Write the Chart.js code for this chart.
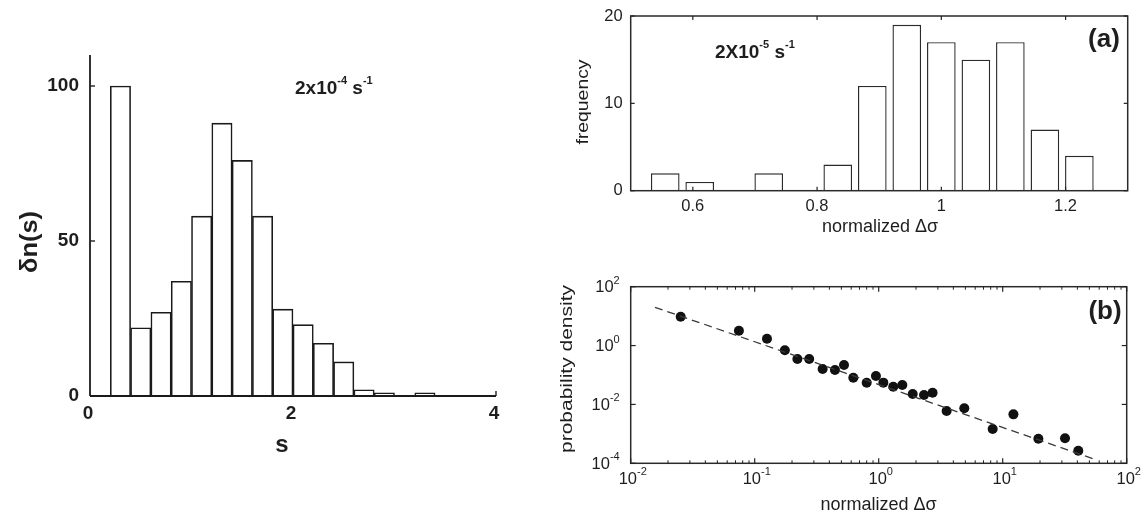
<!DOCTYPE html>
<html><head><meta charset="utf-8">
<script src="https://cdn.jsdelivr.net/npm/chart.js@4.4.1/dist/chart.umd.min.js"></script>
<style>
html,body{margin:0;padding:0;background:#fff;width:1146px;height:524px;overflow:hidden;}
canvas{position:absolute;}
#cL{left:0;top:0;} #cA{left:540px;top:0;} #cB{left:540px;top:240px;}
</style></head><body>
<canvas id="cL" width="540" height="524"></canvas>
<canvas id="cA" width="606" height="240"></canvas>
<canvas id="cB" width="606" height="284"></canvas>
<script>
// ---------- data ----------
// left panel: histogram of s (bin centres, width 0.2)
const sBins   = [0.3,0.5,0.7,0.9,1.1,1.3,1.5,1.7,1.9,2.1,2.3,2.5,2.7,2.9,3.1,3.3];
const sCounts = [100,22,27,37,58,88,76,58,28,23,17,11,2,1,0,1];
const sTicksX = [0,2,4];
const sTicksY = [0,50,100];
// panel (a): frequency vs normalized Δσ
const aBins = [0.5556,0.6111,0.6667,0.7222,0.7778,0.8333,0.8889,0.9444,1.0,1.0556,1.1111,1.1667,1.2222];
const aFreq = [2,1,0,2,0,3,12,19,17,15,17,7,4];
const aTicksX = [0.6,0.8,1,1.2];
const aTickLabelsX = ['0.6','0.8','1','1.2'];
const aTicksY = [0,10,20];
// panel (b): probability density vs normalized Δσ
const bX = [0.0253,0.0746,0.1256,0.175,0.221,0.275,0.353,0.444,0.525,0.624,0.80,0.95,1.09,1.31,1.55,1.88,2.32,2.72,3.53,4.9,8.3,12.2,19.4,31.8,40.7];
const bY = [9.5,3.2,1.71,0.69,0.35,0.35,0.16,0.148,0.22,0.081,0.0547,0.092,0.055,0.04,0.046,0.0226,0.0209,0.025,0.006,0.0074,0.00146,0.0046,0.00068,0.00071,0.000267];
const fitX = [0.0157,57.3];
const fitY = [20,0.00013];
const bTickExpX = [-2,-1,0,1,2];
const bTickExpY = [-4,-2,0,2];

// ---------- helpers ----------
const FF = '"Liberation Sans", Arial, Helvetica, sans-serif';
const INK = '#1e1e1e';
function txt(ctx,t,x,y,font,align){ctx.save();ctx.font=font;ctx.fillStyle=INK;ctx.textAlign=align||'center';ctx.textBaseline='middle';ctx.fillText(t,x,y);ctx.restore();}
function rtext(ctx,t,cx,cy,font,len){ctx.save();ctx.translate(cx,cy);ctx.rotate(-Math.PI/2);ctx.font=font;ctx.fillStyle=INK;const w=ctx.measureText(t).width;const s=len?len/w:1;ctx.scale(s,1);ctx.textAlign='center';ctx.textBaseline='middle';ctx.fillText(t,0,0);ctx.restore();}
// parts: [text, isSup]
function supText(ctx,parts,x,y,align,bf,sf,rise){
  ctx.save();ctx.fillStyle=INK;ctx.textBaseline='middle';ctx.textAlign='left';
  let total=0;const ws=parts.map(p=>{ctx.font=p[1]?sf:bf;const w=ctx.measureText(p[0]).width;total+=w;return w;});
  let cx = align==='center'? x-total/2 : align==='right'? x-total : x;
  parts.forEach((p,i)=>{ctx.font=p[1]?sf:bf;ctx.fillText(p[0],cx,p[1]?y-rise:y);cx+=ws[i];});
  ctx.restore();
}
function line(ctx,x1,y1,x2,y2,w,c){ctx.save();ctx.strokeStyle=c||'#222';ctx.lineWidth=w||1.5;ctx.beginPath();ctx.moveTo(x1,y1);ctx.lineTo(x2,y2);ctx.stroke();ctx.restore();}
function box(ctx,a,w){ctx.save();ctx.strokeStyle='#2a2a2a';ctx.lineWidth=w;ctx.strokeRect(a.left,a.top,a.right-a.left,a.bottom-a.top);ctx.restore();}
const hiddenScale = (extra)=>Object.assign({grid:{display:false,drawTicks:false},border:{display:false},ticks:{display:false}},extra);

// ---------- left panel ----------
const leftPlugin = {id:'leftDeco', afterDatasetsDraw(ch){
  const ctx=ch.ctx, a=ch.chartArea, xs=ch.scales.x, ys=ch.scales.y;
  line(ctx,a.left,a.top,a.left,a.bottom,1.8,'#1a1a1a');
  line(ctx,a.left,a.bottom,a.right,a.bottom,1.8,'#1a1a1a');
  sTicksY.forEach(v=>{const py=ys.getPixelForValue(v); if(v>0) line(ctx,a.left,py,a.left+5,py,1.4);
    txt(ctx,String(v),a.left-11,py,'bold 19px '+FF,'right');});
  sTicksX.forEach(v=>{const px=xs.getPixelForValue(v); if(v>0) line(ctx,px,a.bottom,px,a.bottom-5,1.4);
    txt(ctx,String(v),px-2,a.bottom+18,'bold 19px '+FF);});
  rtext(ctx,'δn(s)',30,242,'bold 24px '+FF,62);
  txt(ctx,'s',282,445,'bold 24px '+FF);
  supText(ctx,[['2x10',false],['-4',true],[' s',false],['-1',true]],295,89,'left','bold 19px '+FF,'bold 11px '+FF,8);
}};
new Chart(document.getElementById('cL'),{
  type:'bar',
  data:{datasets:[{data:sBins.map((x,i)=>({x:x,y:sCounts[i]})),backgroundColor:'#ffffff',borderColor:'#1a1a1a',borderWidth:1.6,barPercentage:1,categoryPercentage:1}]},
  options:{responsive:false,animation:false,events:[],
    layout:{padding:{left:90,right:44,top:55,bottom:128}},
    plugins:{legend:{display:false},tooltip:{enabled:false}},
    scales:{
      x:hiddenScale({type:'linear',min:0,max:4,offset:false,afterFit:s=>{s.height=0;}}),
      y:hiddenScale({min:0,max:110,afterFit:s=>{s.width=0;}})
    }},
  plugins:[leftPlugin]
});

// ---------- panel (a) ----------
const aPlugin = {id:'aDeco', afterDatasetsDraw(ch){
  const ctx=ch.ctx, a=ch.chartArea, xs=ch.scales.x, ys=ch.scales.y;
  box(ctx,a,1.5);
  aTicksX.forEach((v,i)=>{const px=xs.getPixelForValue(v);
    line(ctx,px,a.bottom,px,a.bottom-4,1.2); line(ctx,px,a.top,px,a.top+4,1.2);
    txt(ctx,aTickLabelsX[i],px,a.bottom+16,'16.5px '+FF);});
  aTicksY.forEach(v=>{const py=ys.getPixelForValue(v);
    line(ctx,a.left,py,a.left+4,py,1.2); line(ctx,a.right,py,a.right-4,py,1.2);
    txt(ctx,String(v),a.left-8,py,'16.5px '+FF,'right');});
  txt(ctx,'normalized Δσ',340,227,'18px '+FF);
  rtext(ctx,'frequency',43,102,'17px '+FF,85);
  txt(ctx,'(a)',564,40,'bold 26px '+FF);
  supText(ctx,[['2X10',false],['-5',true],[' s',false],['-1',true]],175,53,'left','bold 19px '+FF,'bold 11px '+FF,8);
}};
new Chart(document.getElementById('cA'),{
  type:'bar',
  data:{datasets:[{data:aBins.map((x,i)=>({x:x,y:aFreq[i]})),backgroundColor:'#ffffff',borderColor:'#2a2a2a',borderWidth:1.4,barPercentage:0.83,categoryPercentage:1}]},
  options:{responsive:false,animation:false,events:[],
    layout:{padding:{left:90.7,right:18.3,top:16,bottom:49.3}},
    plugins:{legend:{display:false},tooltip:{enabled:false}},
    scales:{
      x:hiddenScale({type:'linear',min:0.5,max:1.3,offset:false,afterFit:s=>{s.height=0;}}),
      y:hiddenScale({min:0,max:20,afterFit:s=>{s.width=0;}})
    }},
  plugins:[aPlugin]
});

// ---------- panel (b) ----------
const bPlugin = {id:'bDeco', afterDatasetsDraw(ch){
  const ctx=ch.ctx, a=ch.chartArea, xs=ch.scales.x, ys=ch.scales.y;
  box(ctx,a,1.5);
  bTickExpX.forEach(e=>{
    const px=xs.getPixelForValue(Math.pow(10,e));
    line(ctx,px,a.bottom,px,a.bottom-5,1.2); line(ctx,px,a.top,px,a.top+5,1.2);
    if(e<2){for(let m=2;m<10;m++){const q=xs.getPixelForValue(m*Math.pow(10,e));
      line(ctx,q,a.bottom,q,a.bottom-3,1); line(ctx,q,a.top,q,a.top+3,1);}}
    supText(ctx,[['10',false],[String(e),true]],px+2,a.bottom+16,'center','16.5px '+FF,'11px '+FF,7);
  });
  bTickExpY.forEach(e=>{
    const py=ys.getPixelForValue(Math.pow(10,e));
    line(ctx,a.left,py,a.left+5,py,1.2); line(ctx,a.right,py,a.right-5,py,1.2);
    supText(ctx,[['10',false],[String(e),true]],a.left-11,py+1,'right','16.5px '+FF,'11px '+FF,7);
  });
  txt(ctx,'normalized Δσ',338.5,264.6,'18px '+FF);
  rtext(ctx,'probability density',28,129,'16px '+FF,168);
  txt(ctx,'(b)',565,72,'bold 26px '+FF);
}};
new Chart(document.getElementById('cB'),{
  type:'scatter',
  data:{datasets:[
    {data:fitX.map((x,i)=>({x:x,y:fitY[i]})),showLine:true,borderColor:'#3a3a3a',borderWidth:1.3,borderDash:[8,5],pointRadius:0,fill:false},
    {data:bX.map((x,i)=>({x:x,y:bY[i]})),backgroundColor:'#111',borderColor:'#111',pointRadius:5,pointBorderWidth:0}
  ]},
  options:{responsive:false,animation:false,events:[],
    layout:{padding:{left:90.7,right:19.3,top:46.7,bottom:60.7}},
    plugins:{legend:{display:false},tooltip:{enabled:false}},
    scales:{
      x:hiddenScale({type:'logarithmic',min:0.01,max:100,afterFit:s=>{s.height=0;}}),
      y:hiddenScale({type:'logarithmic',min:0.0001,max:100,afterFit:s=>{s.width=0;}})
    }},
  plugins:[bPlugin]
});
</script>
</body></html>
